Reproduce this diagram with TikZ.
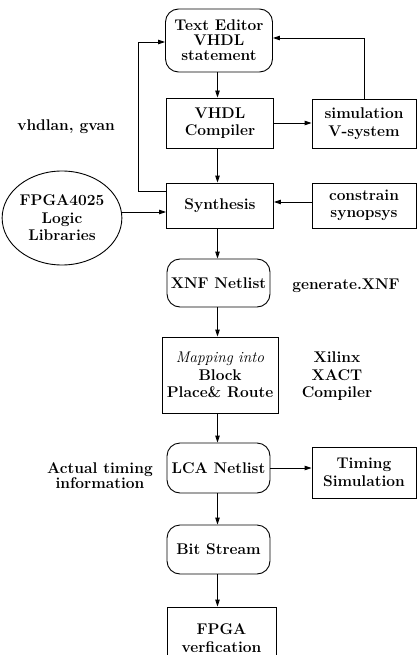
\documentclass[tikz,border=0pt]{standalone}
\usetikzlibrary{arrows.meta,shapes.geometric}
\begin{document}
\begin{tikzpicture}[x=1pt,y=-1pt,
  font=\fontsize{15.5}{17.5}\selectfont\bfseries,
  box/.style={draw,rectangle,align=center,inner sep=0pt,line width=0.9pt},
  rbox/.style={box,rounded corners=13pt},
  tight/.style={font=\fontsize{15.5}{15}\selectfont\bfseries},
  lbl/.style={align=center,inner sep=0pt},
  arr/.style={-{Triangle[length=7pt,width=4.5pt]},line width=0.9pt}
]
\clip (0,0) rectangle (417,655);
\fill[white] (0,0) rectangle (417,655);

% main column
\node[rbox,tight,minimum width=107pt,minimum height=63pt] (ted) at (219,40.5) {Text Editor\\VHDL\\statement};
\node[box,minimum width=107pt,minimum height=50pt] (vc) at (220,123) {VHDL\\Compiler};
\node[box,minimum width=107pt,minimum height=45pt] (syn) at (220,205.5) {Synthesis};
\node[rbox,minimum width=103pt,minimum height=48pt] (xnf) at (218.5,283) {XNF Netlist};
\node[box,minimum width=116pt,minimum height=76pt] (map) at (220,375) {{\mdseries\itshape Mapping into}\\Block\\Place\& Route};
\node[rbox,minimum width=103pt,minimum height=50pt] (lca) at (218.5,468) {LCA Netlist};
\node[rbox,minimum width=103pt,minimum height=49pt] (bit) at (218.5,549.5) {Bit Stream};
\node[box,minimum width=109pt,minimum height=62pt] (fv) at (221.5,638) {FPGA\\verfication};

% right column
\node[box,minimum width=104pt,minimum height=49pt] (sim) at (364,123.5) {simulation\\V-system};
\node[box,minimum width=104pt,minimum height=45pt] (con) at (364,205.5) {constrain\\synopsys};
\node[box,minimum width=104pt,minimum height=51pt] (tim) at (364,472.5) {Timing\\Simulation};

% library circle
\node[draw,ellipse,line width=0.9pt,minimum width=108pt,minimum height=94pt,align=center,inner sep=0pt] (lib) at (62,218) {FPGA4025\\Logic\\Libraries};

% labels
\node[lbl] (l1) at (66,127) {vhdlan, gvan};
\node[lbl] (l2) at (346,286) {generate.XNF};
\node[lbl] (l3) at (337,376.5) {Xilinx\\XACT\\Compiler};
\node[lbl,tight] (l4) at (100,476) {Actual timing\\information};

% connectors
\coordinate (lft) at (138,191);
\draw[arr] (ted.south -| 217.5,0) -- (vc.north -| 217.5,0);
\draw[arr] (vc.south -| 217.5,0) -- (syn.north -| 217.5,0);
\draw[arr] (syn.south -| 217.5,0) -- (xnf.north -| 217.5,0);
\draw[arr] (xnf.south -| 217.5,0) -- (map.north -| 217.5,0);
\draw[arr] (map.south -| 217.5,0) -- (lca.north -| 217.5,0);
\draw[arr] (lca.south -| 217.5,0) -- (bit.north -| 217.5,0);
\draw[arr] (bit.south -| 217.5,0) -- (fv.north -| 217.5,0);
\draw[arr] (vc.east) -- (vc.east -| sim.west);
\draw[arr] (sim.north) |- ([yshift=2.5pt]ted.east);
\draw[arr] ([yshift=14.5pt]syn.west) -- (lft) |- ([yshift=-1.5pt]ted.west);
\draw[arr] ([yshift=3.5pt]con.west) -- ([yshift=3.5pt]syn.east);
\draw[arr] ([yshift=6pt]lib.east) -- ([yshift=-6.5pt]syn.west);
\draw[arr] (lca.east) -- (lca.east -| tim.west);
\end{tikzpicture}
\end{document}
